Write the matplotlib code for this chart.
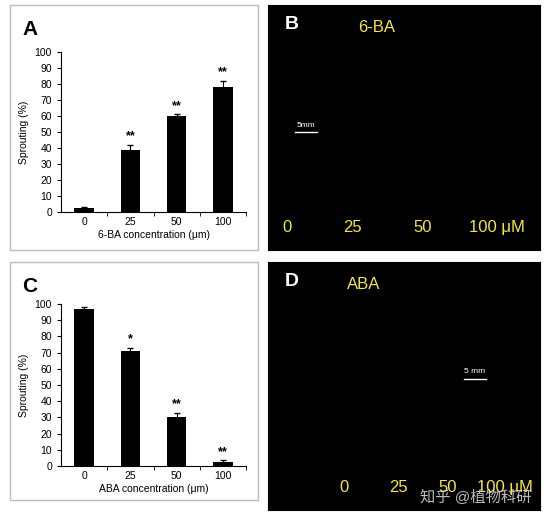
import matplotlib.pyplot as plt
from matplotlib.patches import Rectangle

plt.rcParams['font.family'] = ['Liberation Sans', 'Noto Sans CJK SC', 'DejaVu Sans']

conc = ['0', '25', '50', '100']
ba_vals = [2.5, 39, 60, 78]
ba_err = [0.5, 3, 1, 4]
ba_sig = ['', '**', '**', '**']
aba_vals = [97, 71, 30, 2.5]
aba_err = [1, 2, 3, 1]
aba_sig = ['', '*', '**', '**']

W, H = 554, 519
fig = plt.figure(figsize=(W / 100, H / 100), dpi=100)


def px(x0, y0, x1, y1):
    # pixel box (top-left origin) -> figure fraction
    return [x0 / W, 1 - y1 / H, (x1 - x0) / W, (y1 - y0) / H]


def bar_panel(box, axbox, letter, vals, err, sig, xlabel):
    b = px(*box)
    fig.patches.append(Rectangle((b[0], b[1]), b[2], b[3], transform=fig.transFigure,
                                 fill=False, ec='#bbbbbb', lw=1))
    fig.text(b[0] + 12 / W, b[1] + b[3] - 30 / H, letter, fontsize=15, fontweight='bold')
    ax = fig.add_axes(px(*axbox))
    x = range(len(vals))
    ax.bar(x, vals, width=0.42, color='black', yerr=err,
           error_kw=dict(ecolor='black', capsize=2, lw=0.8))
    for i, v in enumerate(vals):
        if sig[i]:
            ax.text(i, v + err[i] + 1.5, sig[i], ha='center', va='bottom',
                    fontsize=9, fontweight='bold')
    ax.set_xlim(-0.5, 3.5)
    ax.set_ylim(0, 100)
    ax.set_yticks(range(0, 101, 10))
    ax.set_xticks(list(x))
    ax.set_xticklabels(conc)
    ax.set_xticks([0.5, 1.5, 2.5, 3.5], minor=True)
    ax.tick_params(axis='x', which='major', length=0, labelsize=7.5)
    ax.tick_params(axis='x', which='minor', length=3)
    ax.tick_params(axis='y', length=3, labelsize=7.5)
    ax.spines['top'].set_visible(False)
    ax.spines['right'].set_visible(False)
    ax.set_ylabel('Sprouting (%)', fontsize=7.5)
    ax.set_xlabel(xlabel, fontsize=7.5, labelpad=2)


bar_panel((10, 5, 258, 250), (61, 52, 246, 212), 'A', ba_vals, ba_err, ba_sig,
          '6-BA concentration (μm)')
bar_panel((10, 262, 258, 500), (61, 304, 246, 466), 'C', aba_vals, aba_err, aba_sig,
          'ABA concentration (μm)')


def photo_panel(box, letter, title, title_x, labels, label_x, bar_xy, bar_label):
    ax = fig.add_axes(px(*box))
    ax.set_facecolor('black')
    ax.set_xlim(0, 1)
    ax.set_ylim(0, 1)
    ax.set_xticks([])
    ax.set_yticks([])
    ax.text(0.06, 0.92, letter, color='white', fontsize=14, fontweight='bold', va='center')
    ax.text(title_x, 0.91, title, color='#f5e642', fontsize=12, va='center')
    for lab, lx in zip(labels, label_x):
        ax.text(lx, 0.06, lab, color='#f5e642', fontsize=12, ha='center', va='bottom')
    bx, by = bar_xy
    ax.plot([bx, bx + 0.08], [by, by], color='white', lw=1)
    ax.text(bx + 0.04, by + 0.015, bar_label, color='white', fontsize=6, ha='center', va='bottom')
    return ax


photo_panel((268, 5, 540, 250), 'B', '6-BA', 0.33, ['0', '25', '50', '100 μM'],
            [0.07, 0.31, 0.57, 0.84], (0.1, 0.48), '5mm')
axd = photo_panel((268, 262, 540, 510), 'D', 'ABA', 0.29, ['0', '25', '50', '100 μM'],
                  [0.28, 0.48, 0.66, 0.87], (0.72, 0.53), '5 mm')
axd.text(0.97, 0.02, '知乎 @植物科研', color='#dddddd', fontsize=11, ha='right', va='bottom',
         alpha=0.85)

fig.savefig('out.png', dpi=100, facecolor='white')
